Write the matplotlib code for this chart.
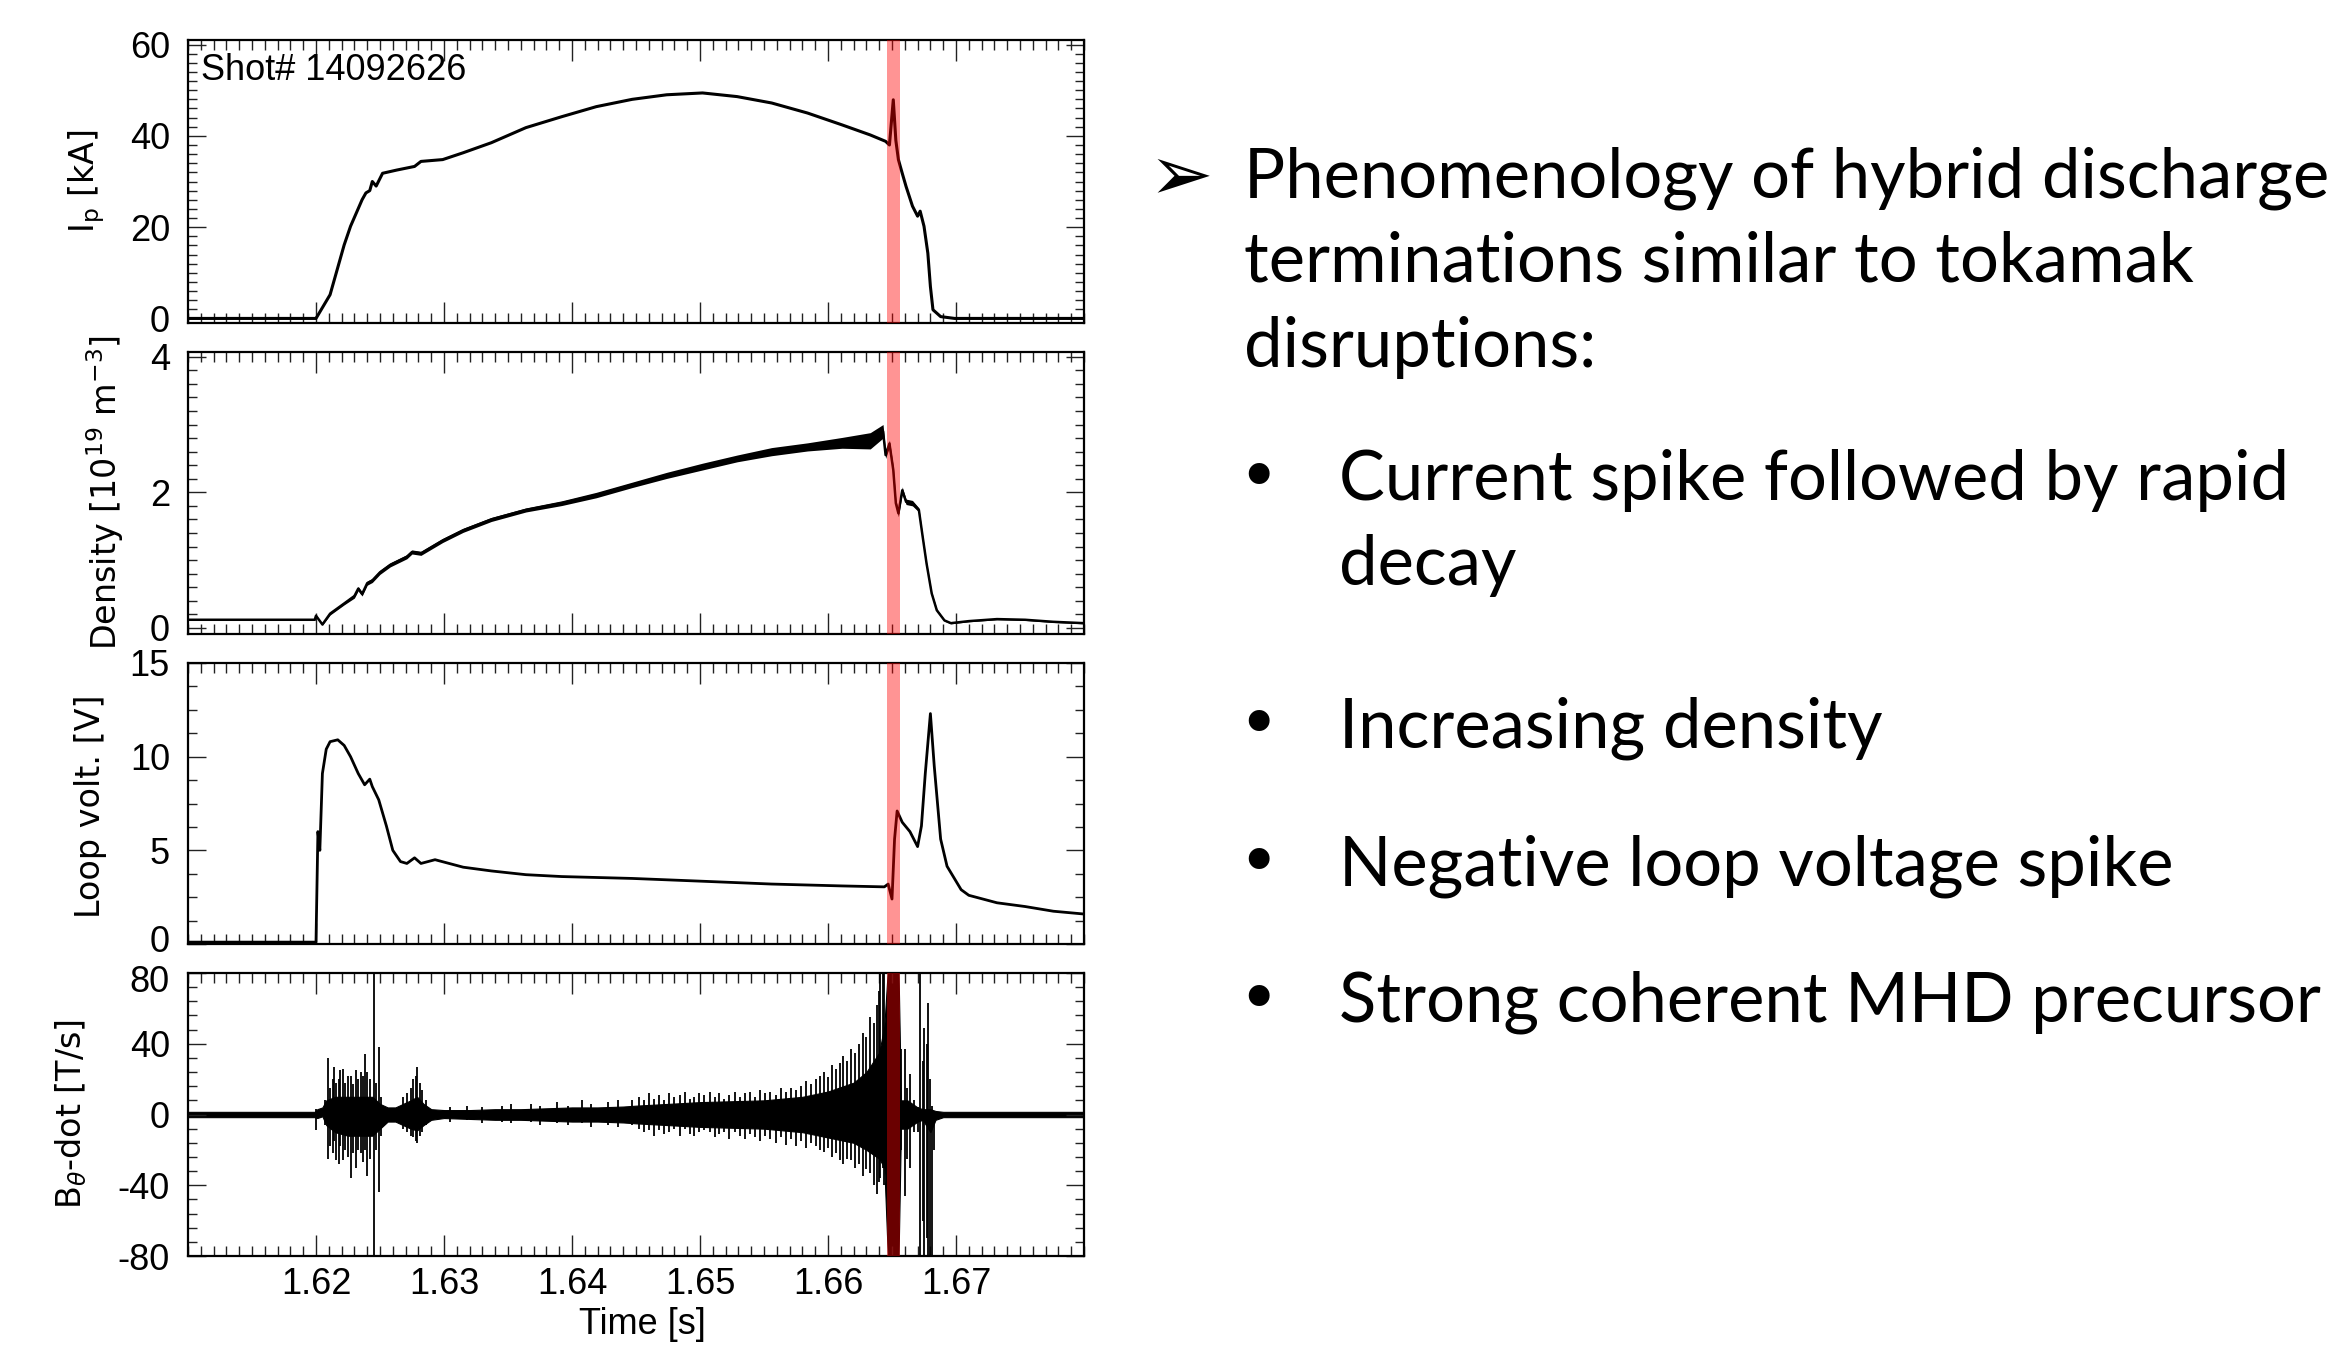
import numpy as np
import matplotlib
matplotlib.use("Agg")
import matplotlib.pyplot as plt
from matplotlib import font_manager as fm
from matplotlib.ticker import MultipleLocator, FixedLocator
from matplotlib.transforms import ScaledTranslation

# ------------------------------------------------------------------ data
shot_label = "Shot# 14092626"

# plasma current I_p [kA]
ip_t = [1.6100, 1.6199, 1.6200, 1.6211, 1.6222, 1.6227, 1.6236, 1.6239, 1.6242, 1.6244,
        1.6247, 1.6252, 1.6263, 1.6277, 1.6282, 1.6299, 1.6315, 1.6337, 1.6364, 1.6392,
        1.6419, 1.6447, 1.6474, 1.6502, 1.6529, 1.6556, 1.6584, 1.6611, 1.6633, 1.6645,
        1.6648, 1.6651, 1.6653, 1.6655, 1.6658, 1.6661, 1.6666, 1.6670, 1.6672, 1.6675,
        1.6678, 1.6680, 1.6682, 1.6688, 1.6699, 1.6800]
ip_v = [0.0, 0.0, 0.0, 5.2, 16.1, 20.2, 26.0, 27.5, 28.0, 30.0,
        29.0, 31.8, 32.5, 33.3, 34.4, 34.8, 36.3, 38.5, 41.8, 44.2,
        46.4, 48.0, 49.0, 49.4, 48.6, 47.2, 45.0, 42.4, 40.2, 38.8,
        38.0, 47.9, 39.0, 34.8, 31.8, 28.9, 24.6, 22.4, 23.5, 20.2,
        14.3, 7.0, 1.9, 0.4, 0.0, 0.0]

# line-averaged density [1e19 m^-3] and half-width of its noise band
dens_t = [1.6100, 1.6199, 1.6200, 1.6205, 1.6211, 1.6222, 1.6230, 1.6233, 1.6236, 1.6240,
          1.6244, 1.6250, 1.6258, 1.6271, 1.6275, 1.6282, 1.6299, 1.6315, 1.6337, 1.6364,
          1.6392, 1.6419, 1.6447, 1.6474, 1.6502, 1.6529, 1.6556, 1.6584, 1.6611, 1.6633,
          1.6643, 1.6645, 1.6648, 1.6651, 1.6653, 1.6655, 1.6658, 1.6661, 1.6666, 1.6671,
          1.6674, 1.6677, 1.6681, 1.6685, 1.6691, 1.6696, 1.6710, 1.6732, 1.6754, 1.6776,
          1.6800]
dens_v = [0.12, 0.12, 0.18, 0.05, 0.21, 0.36, 0.47, 0.58, 0.50, 0.66,
          0.70, 0.82, 0.93, 1.05, 1.12, 1.10, 1.29, 1.44, 1.60, 1.74,
          1.84, 1.96, 2.11, 2.25, 2.38, 2.50, 2.60, 2.67, 2.73, 2.76,
          2.90, 2.55, 2.72, 2.33, 1.84, 1.69, 2.03, 1.86, 1.84, 1.74,
          1.34, 0.95, 0.51, 0.26, 0.11, 0.07, 0.10, 0.13, 0.12, 0.09,
          0.07]
dens_w = [0.01, 0.01, 0.01, 0.01, 0.02, 0.02, 0.03, 0.03, 0.03, 0.03,
          0.03, 0.03, 0.03, 0.03, 0.03, 0.03, 0.03, 0.03, 0.03, 0.03,
          0.035, 0.04, 0.04, 0.045, 0.05, 0.05, 0.06, 0.06, 0.08, 0.12,
          0.10, 0.05, 0.05, 0.05, 0.05, 0.05, 0.05, 0.04, 0.04, 0.03,
          0.02, 0.02, 0.02, 0.02, 0.01, 0.01, 0.01, 0.01, 0.01, 0.01,
          0.01]

# loop voltage [V]
vl_t = [1.6100, 1.6200, 1.62015, 1.6203, 1.6205, 1.6208, 1.6211, 1.6217, 1.6222, 1.6227,
        1.6233, 1.6238, 1.6242, 1.6244, 1.6249, 1.6255, 1.6260, 1.6266, 1.6271, 1.6277,
        1.6282, 1.6293, 1.6304, 1.6315, 1.6337, 1.6364, 1.6392, 1.6447, 1.6502, 1.6556,
        1.6611, 1.6644, 1.6647, 1.6650, 1.6652, 1.6654, 1.6658, 1.6664, 1.6670, 1.6673,
        1.6676, 1.6680, 1.6683, 1.6688, 1.6693, 1.6704, 1.6710, 1.6732, 1.6754, 1.6776,
        1.6800]
vl_v = [0.1, 0.1, 6.0, 5.0, 9.1, 10.4, 10.8, 10.9, 10.6, 10.0,
        9.1, 8.5, 8.8, 8.4, 7.7, 6.3, 5.0, 4.4, 4.3, 4.6,
        4.3, 4.5, 4.3, 4.1, 3.9, 3.7, 3.6, 3.5, 3.35, 3.2,
        3.1, 3.05, 3.2, 2.4, 5.6, 7.1, 6.5, 6.0, 5.2, 6.3,
        9.1, 12.3, 9.5, 5.6, 4.15, 2.9, 2.6, 2.2, 2.0, 1.75,
        1.6]

# B_theta-dot [T/s]: dense core of the oscillation (upper / lower edge)
bd_t = [1.6100, 1.6199, 1.6201, 1.6205, 1.6208, 1.6215, 1.6225, 1.6235, 1.6244, 1.6250,
        1.6256, 1.6262, 1.6268, 1.6274, 1.6279, 1.6284, 1.6290, 1.6300, 1.6320, 1.6340,
        1.6360, 1.6380, 1.6400, 1.6420, 1.6440, 1.6450, 1.6500, 1.6550, 1.6580, 1.6600,
        1.6620, 1.6630, 1.6640, 1.6644, 1.6647, 1.6655, 1.6657, 1.6662, 1.6666, 1.6670,
        1.6674, 1.6680, 1.6684, 1.6690, 1.6800]
bd_hi = [1.5, 1.5, 3, 4, 8, 10, 10, 10, 10, 6,
         4, 4, 6, 8, 10, 6, 3, 2.5, 2.5, 3,
         3, 3.5, 4, 4, 4.5, 5, 7, 8, 10, 13,
         18, 24, 35, 50, 85, 85, 8, 8, 6, 4,
         3, 3, 2, 1.5, 1.5]
bd_lo = [-1.5, -1.5, -2, -1, -6, -10, -12, -12, -12, -8,
         -4, -4, -6, -8, -9, -6, -3, -2, -2.5, -3,
         -3, -3.5, -4, -4, -4.5, -5, -7, -8, -10, -13,
         -16, -20, -25, -30, -85, -85, -8, -8, -6, -4,
         -3, -10, -3, -1.5, -1.5]

# individual spikes of the B_theta-dot signal (time, min, max)
sp_t = [1.6200, 1.6207, 1.6209, 1.6211, 1.6213, 1.6214, 1.6216, 1.6218, 1.6219, 1.6221,
        1.6223, 1.6225, 1.6227, 1.6229, 1.6231, 1.6233, 1.6235, 1.6237, 1.6238, 1.6240,
        1.6242, 1.6245, 1.6247, 1.6249, 1.6251,
        1.6268, 1.6271, 1.6274, 1.6276, 1.6278, 1.6279, 1.6281, 1.6283, 1.6286,
        1.6305, 1.6318, 1.6330, 1.6345, 1.6352, 1.6368, 1.6375, 1.6388, 1.6397, 1.6408,
        1.6415, 1.6428, 1.6436, 1.6447,
        1.6452, 1.6456, 1.6460, 1.6464, 1.6468, 1.6472, 1.6476, 1.6480, 1.6484, 1.6488,
        1.6492, 1.6495, 1.6499, 1.6503, 1.6508, 1.6512, 1.6515, 1.6519, 1.6523, 1.6527,
        1.6531, 1.6535, 1.6539, 1.6543, 1.6547, 1.6551, 1.6555, 1.6559, 1.6563, 1.6567,
        1.6571, 1.6575, 1.6579, 1.6583, 1.6587, 1.6591, 1.6594, 1.6597, 1.6600, 1.6603,
        1.6606, 1.6609, 1.6612, 1.6615, 1.6618, 1.6621, 1.6624, 1.6627, 1.6630, 1.6633,
        1.6636, 1.6638, 1.6640, 1.6641, 1.6643, 1.6644,
        1.6657, 1.6660, 1.6662, 1.6664, 1.6667, 1.6670, 1.6672, 1.6674, 1.6675, 1.6677,
        1.6678, 1.6680, 1.6681, 1.6683]
sp_lo = [-9, -6, -25, -18, -22, -15, -26, -28, -18, -26,
         -20, -24, -36, -22, -30, -20, -22, -27, -20, -35,
         -25, -80, -20, -44, -12,
         -8, -10, -12, -13, -15, -16, -12, -10, -6,
         -4, -3, -5, -4, -5, -4, -6, -5, -6, -5,
         -7, -6, -7, -6,
         -8, -10, -9, -12, -9, -11, -10, -8, -12, -8,
         -11, -12, -10, -9, -10, -13, -11, -10, -14, -10,
         -12, -14, -11, -13, -15, -12, -14, -16, -13, -17,
         -14, -18, -15, -19, -16, -18, -20, -21, -19, -24,
         -22, -26, -28, -25, -26, -30, -28, -35, -31, -33,
         -40, -45, -38, -36, -30, -40,
         -20, -46, -25, -30, -10, -10, -80, -60, -80, -70,
         -80, -80, -80, -20]
sp_hi = [3, 8, 32, 15, 20, 27, 18, 20, 25, 26,
         18, 22, 22, 17, 25, 20, 24, 22, 34, 24,
         20, 80, 18, 38, 10,
         10, 12, 15, 20, 22, 27, 18, 14, 8,
         4, 5, 4, 5, 6, 6, 5, 7, 5, 8,
         6, 7, 8, 8,
         10, 8, 12, 9, 11, 8, 12, 10, 11, 13,
         9, 10, 12, 11, 13, 10, 12, 9, 11, 13,
         10, 12, 13, 10, 14, 12, 13, 11, 15, 13,
         15, 14, 16, 19, 17, 20, 22, 24, 21, 28,
         26, 29, 33, 30, 37, 35, 40, 46, 44, 55,
         52, 62, 70, 80, 80, 80,
         37, 37, 15, 23, 8, 4, 80, 30, 49, 40,
         63, 20, 5, 2]

# highlighted time window (current spike)
span_t = [1.6646, 1.6656]

# axes
x_lim = [1.61, 1.68]
x_ticks = [1.62, 1.63, 1.64, 1.65, 1.66, 1.67]
x_ticklabels = ["1.62", "1.63", "1.64", "1.65", "1.66", "1.67"]
y_labels = [r"I$_\mathrm{p}$ [kA]", r"Density [10$^{19}$ m$^{-3}$]",
            "Loop volt. [V]", r"B$_\theta$-dot [T/s]"]
y_lims = [(-1, 61), (-0.09, 4.07), (0, 15), (-80, 80)]
y_ticks = [[0, 20, 40, 60], [0, 2, 4], [0, 5, 10, 15], [-80, -40, 0, 40, 80]]
y_ticklabels = [["0", "20", "40", "60"], ["0", "2", "4"], ["0", "5", "10", "15"],
                ["-80", "-40", "0", "40", "80"]]
y_minor = [2, 0.2, 1.25, 8]

bullet_head = ["Phenomenology of hybrid discharge", "terminations similar to tokamak",
               "disruptions:"]
bullet_items = [["Current spike followed by rapid", "decay"], ["Increasing density"],
                ["Negative loop voltage spike"], ["Strong coherent MHD precursor"]]

# ------------------------------------------------------------------ fonts
def narrow_font():
    for fam, size in (("Liberation Sans Narrow", 29), ("Liberation Sans", 26)):
        try:
            fm.findfont(fm.FontProperties(family=fam), fallback_to_default=False)
            return fm.FontProperties(family=fam, size=size)
        except Exception:
            pass
    return fm.FontProperties(family="DejaVu Sans", size=24)

tick_fp = narrow_font()

# ------------------------------------------------------------------ figure
W, H = 2346, 1348
fig = plt.figure(figsize=(W / 100, H / 100), dpi=100)
boxes = [(40, 323), (352, 634), (663, 944), (973, 1256)]
ax_left, ax_w = 188, 896
axes = []
for i, (top, bot) in enumerate(boxes):
    ax = fig.add_axes([ax_left / W, 1 - bot / H, ax_w / W, (bot - top) / H],
                      sharex=axes[0] if axes else None)
    axes.append(ax)

for i, ax in enumerate(axes):
    ax.set_xlim(*x_lim)
    ax.set_ylim(*y_lims[i])
    ax.xaxis.set_major_locator(FixedLocator(x_ticks))
    ax.xaxis.set_minor_locator(MultipleLocator(0.001))
    ax.set_yticks(y_ticks[i], y_ticklabels[i], fontproperties=tick_fp)
    ax.yaxis.set_minor_locator(MultipleLocator(y_minor[i]))
    ax.tick_params(which="both", direction="in", top=True, right=True, width=1.0,
                   color="#222222")
    ax.tick_params(axis="x", which="major", length=15, pad=8)
    ax.tick_params(axis="x", which="minor", length=7.5)
    ax.tick_params(axis="y", which="major", length=13, pad=13)
    ax.tick_params(axis="y", which="minor", length=6.5)
    for s in ax.spines.values():
        s.set_linewidth(1.6)
    if i < 3:
        ax.tick_params(axis="x", labelbottom=False)
    else:
        ax.set_xticks(x_ticks, x_ticklabels, fontproperties=tick_fp)
    ax.set_ylabel(y_labels[i], fontsize=24, family="DejaVu Sans")

# nudge the two stacked tick labels at the panel-3 / panel-4 junction apart
lab_lo = axes[2].get_yticklabels()[0]
lab_lo.set_transform(lab_lo.get_transform() + ScaledTranslation(0, 4 / 72, fig.dpi_scale_trans))
lab_hi = axes[3].get_yticklabels()[-1]
lab_hi.set_transform(lab_hi.get_transform() + ScaledTranslation(0, -4 / 72, fig.dpi_scale_trans))

# label positions (descender edge of the rotated label, in pixels)
label_x = [107, 126, 107, 89]
label_y = [0.5, 0.5, 0.49, 0.5]
for i, ax in enumerate(axes):
    ax.yaxis.set_label_coords((label_x[i] - ax_left) / ax_w, label_y[i])

# traces
axes[0].plot(ip_t, ip_v, color="black", lw=2.2)
d = np.array(dens_v)
dw = np.array(dens_w)
axes[1].fill_between(dens_t, d - dw, d + dw, color="black", lw=0)
axes[1].plot(dens_t, dens_v, color="black", lw=1.8)
axes[2].plot(vl_t, vl_v, color="black", lw=2.0)
axes[3].fill_between(bd_t, bd_lo, bd_hi, color="black", lw=0.8)
axes[3].vlines(sp_t, sp_lo, sp_hi, color="black", lw=1.3)

for ax in axes:
    ax.axvspan(span_t[0], span_t[1], color="red", alpha=0.42, lw=0, zorder=5)

axes[0].text((201 - ax_left) / ax_w, (323 - 80) / 283, shot_label,
             transform=axes[0].transAxes, va="baseline", ha="left",
             fontproperties=tick_fp)
axes[3].set_xlabel("Time [s]", fontproperties=tick_fp)
axes[3].xaxis.set_label_coords((642 - ax_left) / ax_w, -(1307 - 1256) / 283)

# ------------------------------------------------------------------ bullet text
def fx(px):
    return px / W

def fy(py):
    return 1 - py / H

renderer = fig.canvas.get_renderer()
probe = fig.text(0, 0, bullet_head[0], family="Lato", fontsize=48)
pw = probe.get_window_extent(renderer).width
probe.remove()
fs = 48 * 1085 / pw

fig.text(fx(1148), fy(199), "\u27a2", family=["DejaVu Sans"], fontsize=fs * 1.12,
         va="baseline", ha="left")
for k, line in enumerate(bullet_head):
    fig.text(fx(1244), fy(197 + 85 * k), line, family="Lato", fontsize=fs,
             va="baseline", ha="left")

item_base = [[500, 585], [747], [885], [1022]]
for lines, bases in zip(bullet_items, item_base):
    fig.text(fx(1237), fy(bases[0]), "\u2022", family=["DejaVu Sans"], fontsize=fs * 1.05,
             va="baseline", ha="left")
    for line, b in zip(lines, bases):
        fig.text(fx(1339), fy(b), line, family="Lato", fontsize=fs,
                 va="baseline", ha="left")

fig.savefig("out.png", dpi=100, facecolor="white")
